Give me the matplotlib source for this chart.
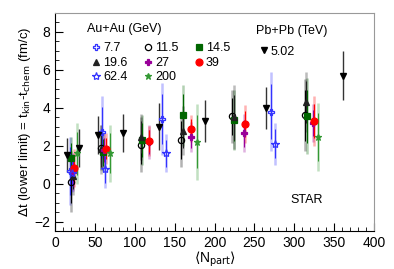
import numpy as np
import matplotlib.pyplot as plt

plt.rcParams['font.family'] = ['Liberation Sans', 'DejaVu Sans']

# Au+Au energies: (Npart, dt, err)
npart_7p7 = [19, 59, 134, 271]
dt_7p7 = [0.65, 2.7, 3.4, 3.8]
err_7p7 = [1.8, 1.9, 1.9, 2.1]

npart_11p5 = [20, 57, 108, 158, 222, 313]
dt_11p5 = [0.1, 1.9, 2.05, 2.3, 3.55, 3.6]
err_11p5 = [1.6, 1.2, 1.45, 1.4, 1.4, 1.9]

npart_14p5 = [20, 60, 109, 160, 224, 316]
dt_14p5 = [1.35, 1.65, 2.3, 3.6, 3.35, 3.55]
err_14p5 = [1.1, 1.0, 1.3, 1.6, 1.6, 2.0]

npart_19p6 = [22, 58, 108, 160, 225, 315]
dt_19p6 = [0.4, 1.8, 2.45, 2.8, 3.5, 4.3]
err_19p6 = [1.0, 1.3, 1.2, 1.3, 1.7, 1.6]

npart_27 = [22, 61, 118, 170, 237, 323]
dt_27 = [0.6, 1.75, 2.2, 2.45, 2.65, 3.2]
err_27 = [1.0, 0.9, 0.9, 0.8, 1.0, 1.0]

npart_39 = [24, 64, 118, 171, 238, 325]
dt_39 = [0.8, 1.85, 2.25, 2.9, 3.15, 3.3]
err_39 = [1.0, 0.8, 0.8, 0.7, 1.0, 1.3]

npart_62p4 = [21, 62, 139, 276]
dt_62p4 = [0.55, 0.75, 1.6, 2.1]
err_62p4 = [1.0, 1.0, 1.0, 1.1]

npart_200 = [27, 69, 178, 330]
dt_200 = [1.6, 1.6, 2.2, 2.45]
err_200 = [1.6, 1.5, 2.0, 1.8]

# Pb+Pb 5.02 TeV
npart_502 = [15, 30, 54, 85, 130, 188, 264, 361]
dt_502 = [1.5, 1.9, 2.55, 2.65, 3.0, 3.3, 4.0, 5.7]
err_502 = [0.9, 1.0, 1.0, 1.0, 1.25, 1.1, 1.1, 1.3]

series = {
    '7.7': (npart_7p7, dt_7p7, err_7p7, 'P', '#3333ff', 'none', 4.5),
    '11.5': (npart_11p5, dt_11p5, err_11p5, 'o', 'black', 'none', 4.5),
    '14.5': (npart_14p5, dt_14p5, err_14p5, 's', '#006600', '#006600', 4.5),
    '19.6': (npart_19p6, dt_19p6, err_19p6, '^', '#222222', '#222222', 4.5),
    '27': (npart_27, dt_27, err_27, 'P', '#990099', '#990099', 4.5),
    '39': (npart_39, dt_39, err_39, 'o', 'red', 'red', 5),
    '62.4': (npart_62p4, dt_62p4, err_62p4, '*', '#3333ff', 'none', 6),
    '200': (npart_200, dt_200, err_200, '*', '#339933', '#339933', 5),
}

fig = plt.figure(figsize=(3.94, 2.69), dpi=100)
ax = fig.add_axes([0.140, 0.141, 0.809, 0.811])

handles = {}
for lab, (x, y, e, m, c, fc, ms) in series.items():
    ax.errorbar(x, y, yerr=e, fmt='none', ecolor=c, elinewidth=1.8, alpha=0.3, zorder=2)
    ax.errorbar(x, y, yerr=np.array(e) * 0.7, fmt='none', ecolor=c, elinewidth=0.8, zorder=3)
    h, = ax.plot(x, y, ls='none', marker=m, ms=ms, mec=c, mfc=fc, mew=0.9, zorder=4)
    handles[lab] = h

ax.errorbar(npart_502, dt_502, yerr=err_502, fmt='none', ecolor='#333333', elinewidth=1.0, zorder=3)
h502, = ax.plot(npart_502, dt_502, ls='none', marker='v', ms=4.5, color='black', zorder=4)

ax.set_xlim(0, 400)
ax.set_ylim(-2.5, 9)
ax.set_xticks(np.arange(0, 401, 50))
ax.set_xticks(np.arange(0, 401, 10), minor=True)
ax.set_yticks([-2, 0, 2, 4, 6, 8])
ax.set_yticks(np.arange(-2.5, 9.01, 0.5), minor=True)
ax.tick_params(which='both', direction='in', top=False, right=False, labelsize=10)
ax.tick_params(which='major', length=6)
ax.tick_params(which='minor', length=3)
for s in ['top', 'right']:
    ax.spines[s].set_color('#999999')

ax.set_xlabel(r'$\langle$N$_{\rm part}\rangle$', fontsize=10, labelpad=0)
ax.set_ylabel(r'$\Delta$t (lower limit) = t$_{\rm kin}$-t$_{\rm chem}$ (fm/c)', fontsize=9.5, labelpad=1)

# column-major order so rows read 7.7 11.5 14.5 / 19.6 27 39 / 62.4 200
order = ['7.7', '19.6', '62.4', '11.5', '27', '200', '14.5', '39']
leg1 = ax.legend([handles[k] for k in order], order, ncol=3, loc='upper left',
                 bbox_to_anchor=(0.09, 0.905), frameon=False, fontsize=9, handlelength=0.6,
                 handletextpad=0.25, columnspacing=1.35, labelspacing=0.2, borderpad=0.2)
ax.add_artist(leg1)
ax.text(0.10, 0.955, 'Au+Au (GeV)', transform=ax.transAxes, fontsize=9, va='top')
ax.legend([h502], ['5.02'], loc='upper left', bbox_to_anchor=(0.615, 0.89), frameon=False,
          fontsize=9, handlelength=0.6, handletextpad=0.25, borderpad=0.2)
ax.text(0.63, 0.945, 'Pb+Pb (TeV)', transform=ax.transAxes, fontsize=9, va='top')
ax.text(295, -1.0, 'STAR', fontsize=9)

fig.savefig('out.png', dpi=100)
